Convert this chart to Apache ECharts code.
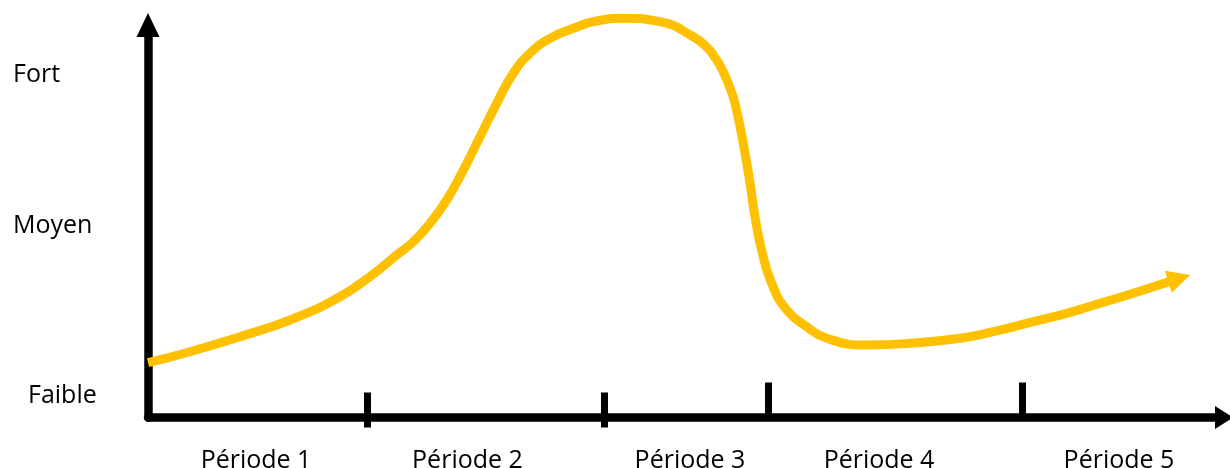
<!DOCTYPE html>
<html>
<head>
<meta charset="utf-8">
<script src="https://cdn.jsdelivr.net/npm/echarts@6/dist/echarts.min.js"></script>
<style>
  html, body { margin: 0; padding: 0; background: #ffffff; }
  #chart { width: 1230px; height: 468px; }
</style>
</head>
<body>
<div id="chart"></div>
<script>
// Time runs 0..100 along x, intensity 0..100 along y.
const periodLabels = ['Période 1', 'Période 2', 'Période 3', 'Période 4', 'Période 5'];
const periodLabelPos = [10.04, 29.69, 50.37, 67.94, 90.24];
// Period boundaries: the first two cross the axis, the last two stand above it.
const crossingTicks = [20.35, 42.38];
const raisedTicks = [57.62, 81.23];

const levelLabels = ['Faible', 'Moyen', 'Fort'];
const levelPos = [5.6, 48.7, 87.4];

// Intensity curve over time.
const curveX = [0, 3.90, 8.55, 13.20, 17.84, 20.94, 23.11, 24.66, 26.21, 27.76, 29.15, 30.55,
  32.41, 33.95, 35.50, 37.36, 39.53, 41.38, 44.17, 47.58, 50.68, 51.92, 52.85, 53.47,
  54.09, 54.55, 55.32, 55.95, 56.41, 57.03, 57.96, 59.36, 61.22, 63.08, 66.79, 70.82,
  75.46, 78.56, 82.28, 85.38, 88.48, 91.57, 95.84];
const curveY = [13.96, 16.76, 20.59, 24.84, 30.78, 36.56, 41.40, 44.79, 49.48, 55.41, 62.22, 69.86,
  80.05, 87.69, 92.79, 96.61, 99.16, 100.84, 101.71, 100.84, 97.02, 94.39, 91.08, 88.03,
  83.95, 80.05, 69.86, 59.67, 51.16, 42.68, 34.19, 27.39, 23.13, 20.18, 18.47, 18.90,
  20.18, 21.86, 24.41, 26.55, 29.10, 31.64, 35.46];

const FONT = '"Open Sans", "Noto Sans", sans-serif';
const INK = '#000000';
const CURVE = '#FFC000';

// The last point carries the arrowhead that ends the curve.
const curveData = curveX.map((x, i) => {
  const item = { value: [x, curveY[i]] };
  if (i === curveX.length - 1) {
    item.symbol = 'triangle';
    item.symbolSize = [23, 23];
    item.symbolRotate = -72.8;
  }
  return item;
});

const baseX = { type: 'value', min: 0, max: 100, position: 'bottom', splitLine: { show: false } };

const chart = echarts.init(document.getElementById('chart'), null, { renderer: 'canvas' });
chart.setOption({
  animation: false,
  backgroundColor: '#ffffff',
  grid: { left: 148, right: 6, top: 25, bottom: 50.5, containLabel: false, outerBoundsMode: 'none' },
  xAxis: [
    Object.assign({}, baseX, {
      axisLine: {
        show: true, onZero: false,
        symbol: ['none', 'triangle'], symbolSize: [23, 18],
        lineStyle: { color: INK, width: 8.5 }
      },
      axisTick: {
        show: true, inside: true, length: 35, customValues: raisedTicks,
        lineStyle: { color: INK, width: 7 }
      },
      axisLabel: {
        show: true, margin: 31, customValues: periodLabelPos,
        formatter: v => periodLabels[periodLabelPos.indexOf(v)] || '',
        fontFamily: FONT, fontSize: 25, color: INK
      }
    }),
    Object.assign({}, baseX, {
      axisLine: { show: false, onZero: false },
      axisTick: {
        show: true, inside: true, length: 25, customValues: crossingTicks,
        lineStyle: { color: INK, width: 7 }
      },
      axisLabel: { show: false }
    }),
    Object.assign({}, baseX, {
      axisLine: { show: false, onZero: false },
      axisTick: {
        show: true, inside: false, length: 10, customValues: crossingTicks,
        lineStyle: { color: INK, width: 7 }
      },
      axisLabel: { show: false }
    })
  ],
  yAxis: {
    type: 'value', min: 0, max: 100, position: 'left',
    splitLine: { show: false },
    axisLine: {
      show: true, onZero: false,
      symbol: ['none', 'triangle'], symbolSize: [23, 24],
      lineStyle: { color: INK, width: 8.5 }
    },
    axisTick: { show: false },
    axisLabel: {
      show: true, margin: 135, align: 'left', customValues: levelPos,
      formatter: v => {
        const name = levelLabels[levelPos.indexOf(v)] || '';
        return name === 'Faible' ? '{f|' + name + '}' : name;
      },
      fontFamily: FONT, fontSize: 25, color: INK,
      rich: { f: { fontFamily: FONT, fontSize: 25, color: INK, padding: [0, 0, 0, 15] } }
    }
  },
  series: [{
    type: 'line',
    xAxisIndex: 0,
    data: curveData,
    smooth: 0.5,
    clip: false,
    symbol: 'none',
    showSymbol: true,
    lineStyle: { color: CURVE, width: 9, cap: 'butt' },
    itemStyle: { color: CURVE },
    emphasis: { disabled: true },
    silent: true
  }]
});
</script>
</body>
</html>
